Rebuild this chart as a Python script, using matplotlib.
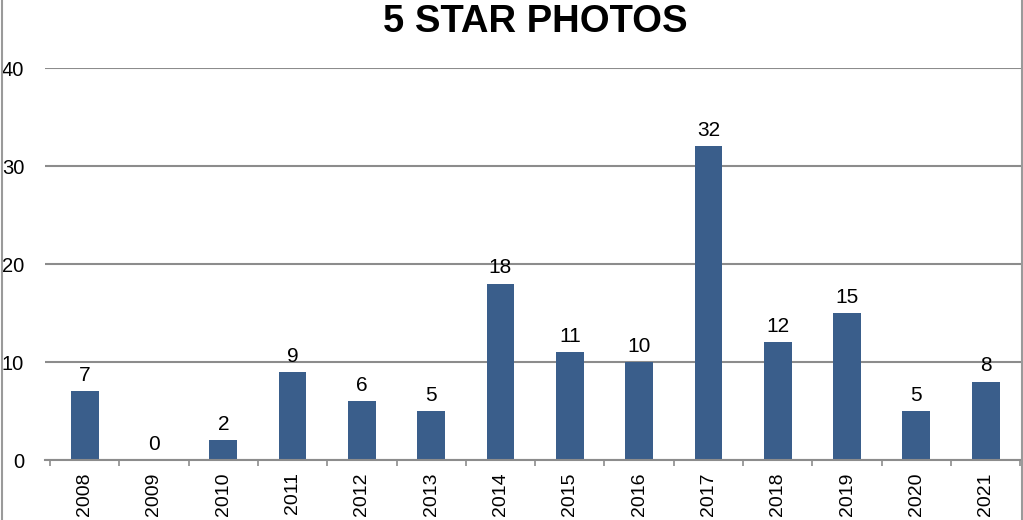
import matplotlib.pyplot as plt
import numpy as np
from matplotlib.lines import Line2D

years = ["2008", "2009", "2010", "2011", "2012", "2013", "2014",
         "2015", "2016", "2017", "2018", "2019", "2020", "2021"]
counts = [7, 0, 2, 9, 6, 5, 18, 11, 10, 32, 12, 15, 5, 8]

plt.rcParams["font.family"] = ["Liberation Sans", "DejaVu Sans"]

bar_color = "#3a5e8b"
grid_color = "#8c8c8c"

fig = plt.figure(figsize=(10.23, 5.2), dpi=100)
ax = fig.add_axes([45 / 1023, 1 - 460 / 520, (1021 - 45) / 1023, (460 - 68) / 520])

x = np.arange(len(years))
ax.bar(x, counts, width=0.4, color=bar_color, zorder=3)

# value labels above bars
for xi, v in zip(x, counts):
    ax.annotate(str(v), (xi, v), xytext=(0, 4.5), textcoords="offset points",
                ha="center", va="bottom", fontsize=15)

ax.set_ylim(0, 40)
ax.set_xlim(-0.572, 13.51)
ax.set_yticks([0, 10, 20, 30, 40])
ax.yaxis.grid(True, color=grid_color, linewidth=1.5, zorder=0)
ax.tick_params(axis="y", length=0, labelsize=14.5, pad=15)

ax.set_xticks(x)
ax.set_xticklabels(years, rotation=90, fontsize=14)
ax.set_xticks(np.arange(-0.5, 14, 1), minor=True)
ax.tick_params(axis="x", which="major", length=0, pad=9)
ax.tick_params(axis="x", which="minor", length=4, color=grid_color, width=1.2)

for s in ["top", "right", "left"]:
    ax.spines[s].set_visible(False)
ax.spines["bottom"].set_color(grid_color)
ax.spines["bottom"].set_linewidth(1.5)
ax.spines["bottom"].set_zorder(4)

fig.text(535 / 1023, 1 - 22 / 520, "5 STAR PHOTOS", ha="center", va="center",
         fontsize=27.5, fontweight="bold")

# outer frame lines (left and right)
fig.add_artist(Line2D([2 / 1023, 2 / 1023], [0, 1], color="#9a9a9a", linewidth=1.5))
fig.add_artist(Line2D([1021.5 / 1023, 1021.5 / 1023], [0, 1], color="#9a9a9a", linewidth=1.5))

fig.savefig("out.png", dpi=100)
